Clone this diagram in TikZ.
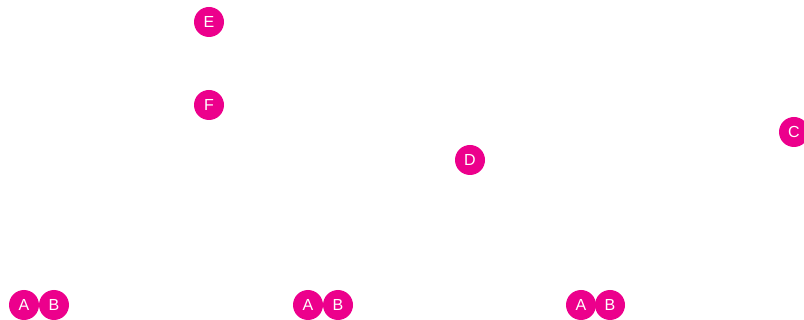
\documentclass[tikz,border=0pt]{standalone}
\usepackage{fontspec}
\setmainfont{Liberation Sans}
\definecolor{mag}{RGB}{236,0,140}
\begin{document}
\begin{tikzpicture}[x=1pt,y=-1pt,
  dot/.style={circle,fill=mag,draw=none,minimum size=30pt,inner sep=0pt,text=white,font=\fontsize{16}{16}\selectfont}]
\useasboundingbox (0,0) rectangle (804,320);
\node[dot] (e) at (209,22) {E};
\node[dot] (f) at (209,105) {F};
\node[dot] (d) at (470,160) {D};
\node[dot] (c) at (794,132) {C};
\node[dot] (a1) at (24,305) {A};
\node[dot] (b1) at (54,305) {B};
\node[dot] (a2) at (308,305) {A};
\node[dot] (b2) at (338,305) {B};
\node[dot] (a3) at (581,305) {A};
\node[dot] (b3) at (610,305) {B};
\end{tikzpicture}
\end{document}
